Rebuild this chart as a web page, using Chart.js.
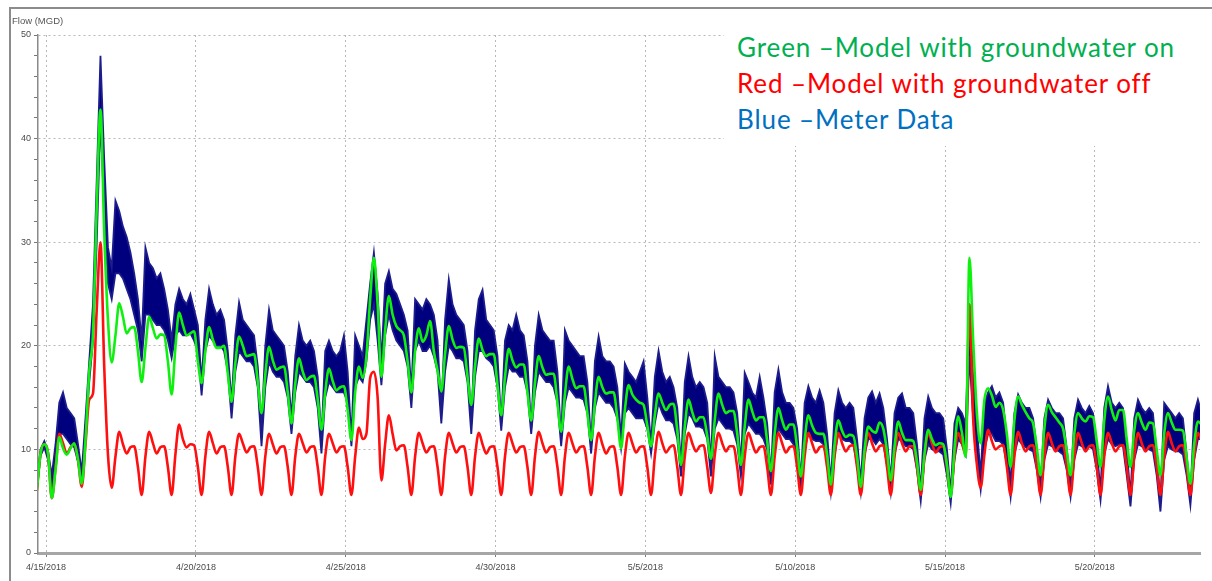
<!DOCTYPE html>
<html>
<head>
<meta charset="utf-8">
<script src="https://cdn.jsdelivr.net/npm/chart.js"></script>
<style>
  html, body { margin: 0; padding: 0; background: #fff; }
  #wrap { position: relative; width: 1212px; height: 581px; overflow: hidden; }
  #frame { position: absolute; left: 9px; top: 7px; width: 1300px; height: 700px; border-top: 2px solid #8c8c8c; border-left: 2px solid #8c8c8c; }
  #flowChart { position: absolute; left: 0; top: 0; }
  #unit { position: absolute; left: 12px; top: 15px; font: 9.5px "Liberation Sans", Arial, sans-serif; color: #555; }
  #note { position: absolute; left: 724px; top: 28px; width: 476px; height: 118px; background: #fff; }
  .line { position: absolute; left: 13px; font: 26px Lato, sans-serif; letter-spacing: 0.9px; line-height: 36px; white-space: nowrap; }
</style>
</head>
<body>
<div id="wrap">
  <div id="frame"></div>
  <canvas id="flowChart" width="1212" height="581"></canvas>
  <div id="unit">Flow (MGD)</div>
  <div id="note">
    <div class="line" style="top:1px;color:#00b050">Green –Model with groundwater on</div>
    <div class="line" style="top:37px;color:#ff0000">Red –Model with groundwater off</div>
    <div class="line" style="top:73px;color:#0070c0">Blue –Meter Data</div>
  </div>
</div>
<script>
// samples every 3 hours, first one at 4/14/2018 ~16:30 (day -0.31, day 0 = 4/15/2018)
const startDay = -0.31
const stepDays = 0.125

const xTickDays = [0, 5, 10, 15, 20, 25, 30, 35]
const xTickLabels = ['4/15/2018', '4/20/2018', '4/25/2018', '4/30/2018', '5/5/2018', '5/10/2018', '5/15/2018', '5/20/2018']

// green - model with groundwater on
const greenModel = [
  6.0, 9.6, 10.5,
  9.6, 5.3, 8.0, 11.2, 10.1, 9.5, 10.1, 10.6,      // 4/15
  9.0, 6.7, 10.9, 17.5, 21.2, 33.4, 42.8, 31.0,    // 4/16
  22.5, 18.4, 21.0, 24.1, 22.8, 21.2, 21.7, 21.8,
  19.5, 16.5, 19.8, 22.8, 21.7, 20.7, 21.1, 21.0,
  18.5, 15.3, 19.8, 23.2, 22.0, 21.0, 21.2, 21.4,
  18.5, 16.4, 19.5, 21.8, 20.6, 19.8, 19.8, 20.0,  // 4/20
  17.3, 14.6, 18.3, 20.9, 20.0, 19.0, 19.1, 19.2,
  16.5, 13.5, 17.2, 19.9, 18.6, 17.7, 17.9, 18.0,
  15.5, 12.5, 16.3, 18.8, 17.5, 16.7, 17.0, 17.1,
  14.8, 11.9, 15.5, 17.8, 16.6, 15.7, 16.0, 16.1,
  13.8, 10.9, 15.5, 18.0, 16.9, 19.0, 24.5, 28.5,  // 4/25
  24.0, 17.0, 21.5, 24.8, 23.0, 21.9, 21.5, 21.0,
  18.5, 15.5, 19.5, 21.7, 20.4, 21.0, 22.4, 19.5,
  17.6, 15.6, 19.2, 21.9, 20.6, 19.8, 19.9, 19.8,
  17.0, 14.3, 18.0, 20.7, 19.6, 19.0, 19.2, 19.2,
  16.2, 13.3, 17.0, 19.7, 18.6, 17.9, 18.2, 18.2,  // 4/30
  15.5, 12.8, 16.4, 19.0, 17.9, 17.2, 17.3, 17.3,
  14.5, 11.7, 15.3, 18.0, 16.8, 15.9, 16.1, 16.1,
  13.5, 10.9, 14.5, 17.0, 16.0, 15.4, 15.5, 15.5,
  13.0, 10.1, 13.8, 16.2, 15.3, 14.8, 14.5, 14.3,
  12.3, 10.3, 13.3, 15.4, 14.5, 13.8, 14.3, 14.4,  // 5/5
  11.8, 8.5, 12.2, 14.8, 13.6, 12.7, 13.1, 13.1,
  11.3, 9.1, 12.8, 15.4, 14.3, 13.5, 13.7, 13.7,
  11.5, 8.5, 12.2, 14.8, 13.7, 12.8, 13.1, 13.1,
  10.8, 7.9, 11.5, 14.0, 12.8, 11.9, 12.4, 12.4,
  10.2, 7.4, 10.9, 13.3, 12.3, 11.6, 11.5, 11.5,   // 5/10
  9.5, 6.6, 10.5, 12.8, 11.8, 11.2, 11.4, 11.3,
  9.3, 6.4, 10.0, 12.2, 11.8, 11.6, 12.6, 12.0,
  9.8, 7.0, 10.3, 12.7, 11.6, 10.9, 10.9, 10.8,
  8.8, 6.1, 9.6, 11.9, 11.0, 10.4, 10.6, 10.5,
  8.5, 5.4, 10.0, 13.2, 11.6, 9.3, 28.5, 20.5,     // 5/15
  13.5, 10.6, 14.8, 15.9, 15.2, 14.1, 14.5, 13.8,
  11.5, 8.3, 12.8, 15.1, 14.3, 13.6, 13.0, 12.5,
  10.2, 7.5, 12.0, 14.3, 13.6, 13.1, 12.6, 12.0,
  9.8, 7.5, 11.5, 13.5, 13.0, 12.7, 13.2, 13.1,
  10.8, 8.3, 12.8, 15.1, 13.8, 12.8, 13.8, 13.8,   // 5/20
  11.0, 8.3, 11.8, 13.5, 12.6, 11.9, 12.6, 12.5,
  10.0, 7.5, 11.5, 13.5, 12.6, 11.9, 11.9, 11.8,
  9.2, 6.7, 10.5, 12.7, 12.4
]

// red - model with groundwater off
const redModel = [
  6.0, 9.6, 10.5,
  9.6, 5.3, 8.2, 11.5, 10.6, 9.6, 10.2, 10.5,      // 4/15
  9.0, 6.4, 10.5, 14.8, 15.4, 23.5, 30.0, 18.0,    // 4/16
  9.5, 6.3, 9.3, 11.7, 10.5, 9.6, 10.2, 10.3,
  8.3, 5.6, 9.3, 11.7, 10.6, 9.6, 10.2, 10.3,
  8.3, 5.6, 9.5, 12.4, 11.0, 10.2, 10.5, 10.4,
  8.3, 5.6, 9.3, 11.7, 10.6, 9.6, 10.2, 10.3,      // 4/20
  8.3, 5.6, 9.3, 11.5, 10.6, 9.7, 10.2, 10.3,
  8.3, 5.6, 9.3, 11.5, 10.5, 9.6, 10.2, 10.3,
  8.3, 5.6, 9.3, 11.5, 10.6, 9.7, 10.2, 10.3,
  8.3, 5.6, 9.3, 11.5, 10.6, 9.7, 10.2, 10.3,
  8.3, 5.6, 9.3, 12.1, 11.0, 11.5, 16.9, 17.5,     // 4/25
  15.0, 7.0, 10.5, 13.3, 11.5, 9.9, 10.3, 10.4,
  8.3, 5.6, 9.3, 11.6, 10.6, 9.7, 10.2, 10.3,
  8.3, 5.6, 9.3, 11.6, 10.6, 9.7, 10.2, 10.3,
  8.3, 5.6, 9.3, 11.6, 10.5, 9.6, 10.2, 10.3,
  8.3, 5.6, 9.3, 11.6, 10.6, 9.7, 10.2, 10.3,      // 4/30
  8.3, 5.6, 9.3, 11.7, 10.6, 9.7, 10.2, 10.3,
  8.3, 5.6, 9.3, 11.6, 10.6, 9.7, 10.2, 10.3,
  8.3, 5.6, 9.3, 11.6, 10.5, 9.6, 10.2, 10.3,
  8.3, 5.6, 9.3, 11.6, 10.6, 9.7, 10.2, 10.3,
  8.3, 5.6, 9.3, 11.7, 10.6, 9.7, 10.2, 10.4,      // 5/5
  8.3, 5.6, 9.3, 11.6, 10.6, 9.8, 10.3, 10.4,
  8.3, 5.8, 9.4, 11.6, 10.6, 9.8, 10.3, 10.3,
  8.3, 5.6, 9.3, 11.6, 10.6, 9.7, 10.2, 10.3,
  8.3, 5.6, 9.3, 11.6, 10.6, 9.7, 10.2, 10.3,
  8.3, 5.6, 9.3, 11.6, 10.6, 9.7, 10.2, 10.3,      // 5/10
  8.3, 5.6, 9.3, 11.6, 10.6, 9.8, 10.3, 10.4,
  8.3, 5.6, 9.3, 11.6, 10.6, 9.8, 10.3, 10.4,
  8.3, 5.6, 9.3, 11.6, 10.6, 9.8, 10.3, 10.3,
  8.3, 5.6, 9.3, 11.6, 10.6, 9.7, 10.2, 10.3,
  8.3, 5.6, 9.3, 11.6, 10.6, 9.5, 24.0, 13.0,      // 5/15
  8.5, 6.3, 9.5, 11.9, 10.8, 10.0, 10.3, 10.4,
  8.3, 5.6, 9.3, 11.7, 10.6, 9.8, 10.3, 10.4,
  8.3, 5.6, 9.3, 11.6, 10.6, 9.8, 10.3, 10.4,
  8.3, 5.6, 9.3, 11.6, 10.6, 9.8, 10.3, 10.4,
  8.3, 5.6, 9.3, 11.6, 10.6, 9.8, 10.3, 10.4,      // 5/20
  8.3, 5.6, 9.3, 11.6, 10.6, 9.8, 10.3, 10.4,
  8.3, 5.6, 9.3, 11.7, 10.6, 9.8, 10.3, 10.4,
  8.3, 5.6, 9.3, 11.6, 10.8
]

// blue - meter data, drawn as a noisy band between upper and lower edge
const meterHigh = [
  6.5, 10.0, 10.8,
  9.8, 7.5, 10.5, 14.5, 15.5, 14.0, 13.5, 13.0,    // 4/15
  10.5, 7.8, 13.0, 18.5, 24.0, 36.0, 48.0, 38.0,   // 4/16
  29.5, 27.5, 34.0, 33.0, 31.5, 30.5, 29.0, 27.0,
  24.5, 20.5, 29.5, 28.0, 27.5, 26.5, 27.0, 25.5,
  23.5, 20.5, 24.0, 25.5, 24.5, 24.0, 25.0, 23.5,
  22.0, 16.5, 22.5, 25.5, 24.0, 23.0, 23.5, 22.5,  // 4/20
  19.5, 14.5, 21.0, 24.2, 22.5, 22.0, 21.5, 21.0,
  18.0, 12.0, 20.0, 23.5, 21.5, 21.0, 20.5, 20.0,
  17.5, 13.0, 19.0, 22.0, 20.5, 20.0, 20.5, 19.5,
  17.0, 11.0, 19.5, 20.5, 19.5, 19.0, 19.5, 21.0,
  17.5, 11.0, 21.0, 20.0, 19.0, 22.5, 26.0, 29.0,  // 4/25
  25.0, 18.5, 26.0, 27.2, 25.5, 25.0, 24.0, 23.0,
  21.5, 15.5, 24.5, 24.0, 23.5, 24.5, 24.0, 23.0,
  20.5, 13.5, 22.5, 26.4, 24.0, 23.0, 22.5, 22.0,
  19.5, 12.5, 21.5, 24.5, 25.4, 22.5, 22.0, 21.5,
  19.0, 12.5, 20.5, 22.0, 21.5, 23.0, 21.5, 21.0,  // 4/30
  18.5, 12.0, 20.0, 23.0, 21.5, 21.0, 20.5, 20.5,
  17.5, 11.0, 21.5, 20.5, 20.0, 19.5, 19.0, 19.0,
  16.5, 10.5, 18.5, 20.9, 19.0, 18.5, 18.5, 18.0,
  16.0, 11.0, 18.3, 17.5, 17.0, 16.5, 17.5, 18.5,
  15.0, 10.5, 17.0, 19.5, 17.5, 16.5, 17.0, 16.0,  // 5/5
  14.0, 8.5, 16.5, 19.0, 17.0, 16.0, 16.5, 16.0,
  14.5, 8.5, 19.0, 17.0, 16.5, 16.0, 16.0, 15.5,
  13.5, 8.5, 17.4, 16.5, 15.5, 15.0, 17.0, 15.0,
  12.5, 7.5, 15.5, 17.7, 15.5, 14.5, 14.5, 14.0,
  12.0, 7.0, 14.5, 16.1, 15.0, 14.5, 15.7, 14.5,   // 5/10
  11.5, 6.8, 13.5, 15.7, 14.5, 14.0, 14.5, 14.0,
  11.0, 6.8, 13.0, 15.0, 15.6, 14.5, 15.4, 14.0,
  11.0, 7.0, 13.5, 15.0, 15.4, 14.0, 14.0, 13.5,
  10.5, 6.0, 13.0, 15.1, 14.0, 13.5, 13.5, 13.0,
  10.0, 5.8, 12.5, 14.0, 13.5, 12.5, 24.0, 17.0,   // 5/15
  12.0, 7.5, 14.5, 15.5, 16.1, 15.0, 15.5, 14.5,
  11.0, 6.5, 13.5, 15.3, 14.5, 14.0, 14.0, 13.0,
  10.0, 6.5, 13.0, 14.8, 14.0, 13.5, 13.5, 13.0,
  10.0, 6.5, 13.0, 14.8, 14.0, 13.5, 14.2, 13.5,
  10.0, 6.0, 14.0, 16.1, 14.5, 14.0, 14.5, 14.0,   // 5/20
  10.0, 5.5, 13.0, 14.8, 14.0, 13.5, 14.0, 13.5,
  9.5, 5.0, 14.5, 14.0, 13.5, 13.0, 13.5, 13.0,
  9.5, 5.5, 13.5, 14.8, 13.5
]

const meterLow = [
  6.0, 9.4, 10.2,
  9.0, 6.2, 8.8, 11.5, 11.5, 11.0, 10.5, 10.2,     // 4/15
  8.8, 6.8, 11.0, 16.5, 20.5, 30.0, 42.0, 33.0,    // 4/16
  26.0, 24.5, 27.0, 27.0, 26.5, 25.5, 24.5, 23.0,
  21.5, 18.5, 23.0, 23.0, 22.5, 22.0, 22.0, 21.5,
  20.5, 18.8, 21.0, 21.5, 21.0, 21.0, 21.2, 20.5,
  19.5, 15.2, 19.5, 21.0, 20.5, 20.0, 20.0, 19.5,  // 4/20
  17.5, 13.0, 17.5, 19.5, 19.0, 18.5, 18.5, 18.0,
  16.0, 10.3, 16.0, 18.5, 17.5, 17.0, 17.0, 16.5,
  15.0, 11.5, 15.5, 17.5, 17.0, 16.5, 16.5, 16.0,
  14.0, 9.6, 15.0, 16.5, 16.0, 15.5, 15.5, 15.5,
  14.5, 10.3, 16.0, 17.0, 16.5, 18.5, 22.5, 24.0,  // 4/25
  20.5, 16.2, 21.0, 23.0, 21.5, 20.5, 20.0, 19.5,
  18.0, 14.0, 19.5, 20.5, 19.5, 19.5, 20.0, 19.0,
  17.5, 12.5, 17.5, 20.0, 19.5, 18.8, 18.8, 18.5,
  16.5, 11.5, 17.0, 19.5, 19.5, 18.8, 18.5, 18.0,
  16.0, 11.8, 16.0, 18.0, 17.5, 17.5, 17.0, 17.0,  // 4/30
  15.5, 11.5, 15.5, 17.5, 17.0, 16.5, 16.5, 16.0,
  14.5, 10.3, 14.5, 16.0, 15.5, 15.0, 15.0, 14.8,
  13.5, 9.6, 14.0, 15.5, 15.0, 14.5, 14.5, 14.0,
  13.0, 10.1, 13.5, 14.0, 13.5, 13.0, 13.0, 13.0,
  12.0, 9.6, 12.5, 14.5, 13.5, 12.8, 12.8, 12.5,   // 5/5
  11.0, 7.4, 11.5, 13.5, 13.0, 12.2, 12.2, 12.0,
  11.0, 7.4, 12.0, 13.0, 12.5, 12.0, 12.0, 11.8,
  10.5, 7.4, 11.5, 12.5, 12.0, 11.5, 11.5, 11.0,
  10.0, 6.6, 10.5, 12.0, 11.5, 11.0, 11.0, 10.5,
  9.5, 5.8, 10.0, 11.5, 11.0, 10.8, 10.8, 10.5,    // 5/10
  9.0, 5.8, 9.5, 11.5, 11.0, 10.8, 10.8, 10.5,
  8.5, 5.8, 9.5, 11.0, 11.0, 10.5, 11.0, 10.5,
  8.5, 5.8, 9.5, 11.0, 10.8, 10.3, 10.3, 10.0,
  8.0, 5.0, 9.0, 10.5, 10.0, 9.8, 9.8, 9.5,
  7.5, 4.8, 9.0, 11.0, 10.5, 9.5, 19.0, 13.0,      // 5/15
  9.0, 6.1, 10.0, 11.5, 11.5, 10.8, 10.8, 10.5,
  8.5, 5.4, 9.5, 11.0, 10.5, 10.2, 10.0, 9.8,
  8.0, 5.4, 9.0, 10.5, 10.3, 10.0, 9.8, 9.5,
  8.0, 5.4, 9.0, 10.5, 10.3, 10.0, 10.3, 10.0,
  8.0, 5.1, 9.5, 11.0, 10.5, 10.3, 10.5, 10.3,     // 5/20
  7.5, 4.5, 9.0, 10.5, 10.3, 10.0, 10.0, 9.8,
  7.5, 4.0, 9.0, 10.3, 10.0, 9.8, 9.8, 9.5,
  7.5, 4.6, 9.0, 11.0, 11.0
]

const toPoints = vals => vals.map((v, i) => ({ x: startDay + i * stepDays, y: v }))

const tickFont = { family: '"Liberation Sans", Arial, sans-serif', size: 9 }

new Chart(document.getElementById('flowChart'), {
    type: 'line',
    data: {
        datasets: [{
            label: 'Green',
            data: toPoints(greenModel),
            borderColor: '#10f010',
            borderWidth: 2.6,
            cubicInterpolationMode: 'monotone'
        }, {
            label: 'Red',
            data: toPoints(redModel),
            borderColor: '#ff1010',
            borderWidth: 2.6,
            cubicInterpolationMode: 'monotone'
        }, {
            label: 'Blue upper',
            data: toPoints(meterHigh),
            borderColor: '#1c1c8c',
            borderWidth: 1.8,
            tension: 0
        }, {
            label: 'Blue lower',
            data: toPoints(meterLow),
            borderColor: '#1c1c8c',
            borderWidth: 1.8,
            tension: 0,
            fill: '-1',
            backgroundColor: '#00007e'
        }]
    },
    options: {
        responsive: false,
        animation: false,
        events: [],
        layout: { padding: { top: 35, right: 12, left: 0, bottom: 0 }, autoPadding: false },
        elements: { point: { radius: 0 } },
        plugins: { legend: { display: false }, tooltip: { enabled: false } },
        scales: {
            x: {
                type: 'linear',
                min: -0.27,
                max: 38.51,
                afterBuildTicks: s => { s.ticks = xTickDays.map(v => ({ value: v })) },
                afterFit: s => { s.height = 28 },
                ticks: {
                    callback: v => xTickLabels[xTickDays.indexOf(v)] ?? '',
                    font: tickFont,
                    color: '#4a4a4a',
                    padding: 5,
                    maxRotation: 0,
                    autoSkip: false
                },
                grid: { color: '#b8b8b8', lineWidth: 1, tickColor: '#777', tickLength: 4 },
                border: { color: '#a6a6a6', width: 3, dash: [2, 3] }
            },
            y: {
                min: 0,
                max: 50,
                afterFit: s => { s.width = 38 },
                ticks: {
                    stepSize: 2,
                    autoSkip: false,
                    callback: v => v % 10 === 0 ? v : '',
                    font: tickFont,
                    color: '#4a4a4a',
                    padding: 3
                },
                grid: {
                    color: ctx => ctx.tick && ctx.tick.value % 10 === 0 ? '#b8b8b8' : 'rgba(0,0,0,0)',
                    tickColor: '#777',
                    tickLength: 4
                },
                border: { color: '#8a8a8a', width: 1.5, dash: [2, 3] }
            }
        }
    }
})
</script>
</body>
</html>
